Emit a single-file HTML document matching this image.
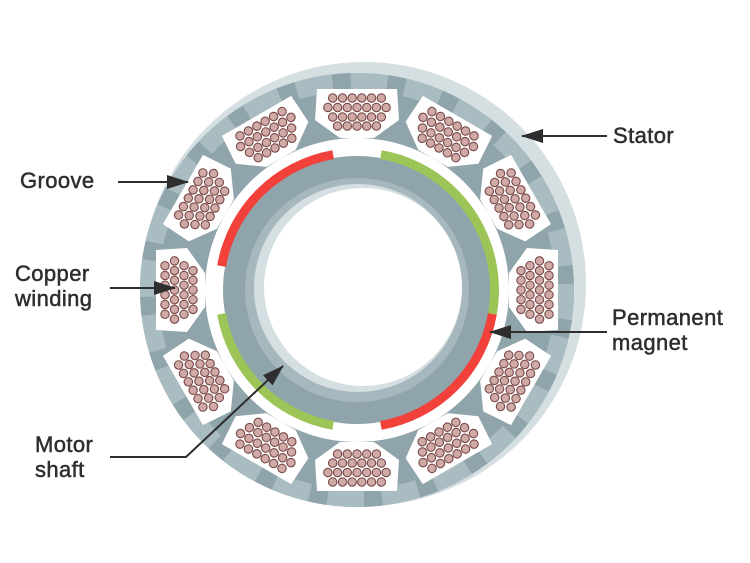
<!DOCTYPE html>
<html><head><meta charset="utf-8"><style>
html,body{margin:0;padding:0;background:#fff;width:750px;height:563px;overflow:hidden}
text{font-family:"Liberation Sans",sans-serif;font-size:22px;fill:#2e2e2e;stroke:#2e2e2e;stroke-width:0.5px;letter-spacing:0.4px}
</style></head><body>
<svg id="s" width="750" height="563" viewBox="0 0 750 563" xmlns="http://www.w3.org/2000/svg">
<defs>
<marker id="ah2" markerWidth="22" markerHeight="14" refX="21" refY="7" orient="auto" markerUnits="userSpaceOnUse"><path d="M0,0 L22,7 L0,14 Z" fill="#2e2e2e"/></marker>
</defs>
<circle cx="364" cy="284" r="222" fill="#d5dfe2"/>
<circle cx="357" cy="290" r="217" fill="#8fa5ab"/>
<circle cx="357" cy="290" r="208" fill="none" stroke="#a9bcc1" stroke-width="18"/>
<circle cx="357" cy="290" r="208" fill="none" stroke="#8fa5ab" stroke-width="18" stroke-dasharray="18 36.5" transform="rotate(8 357 290)"/>
<circle cx="357" cy="290" r="199" fill="#8fa5ab"/>
<circle cx="357" cy="290" r="152" fill="#fff"/>
<g id="slots"></g>
<circle cx="357" cy="290" r="134" fill="#8fa5ab"/>
<circle cx="357" cy="290" r="112" fill="#a6b8bd"/>
<circle cx="358" cy="288" r="104" fill="#d5dfe2"/>
<circle cx="363" cy="287" r="99" fill="#fff"/>
<g id="mag"></g>
<line x1="607" y1="136" x2="522" y2="136" stroke="#2e2e2e" stroke-width="2" marker-end="url(#ah2)"/>
<line x1="607" y1="332" x2="490" y2="332" stroke="#2e2e2e" stroke-width="2" marker-end="url(#ah2)"/>
<line x1="118" y1="182" x2="188" y2="182" stroke="#2e2e2e" stroke-width="2" marker-end="url(#ah2)"/>
<line x1="110" y1="288" x2="175" y2="288" stroke="#2e2e2e" stroke-width="2" marker-end="url(#ah2)"/>
<polyline points="110,457 186,457 283,366" fill="none" stroke="#2e2e2e" stroke-width="2" marker-end="url(#ah2)"/>
<text x="613" y="143">Stator</text>
<text x="612" y="325">Permanent</text>
<text x="612" y="350">magnet</text>
<text x="20" y="188">Groove</text>
<text x="15" y="281">Copper</text>
<text x="15" y="306">winding</text>
<text x="35" y="452">Motor</text>
<text x="35" y="477">shaft</text>
</svg>
<script>
var cx=357,cy=290;
var g=document.getElementById("slots"),h="";
var rows=[[-192,6],[-182.5,7],[-173,6],[-164,5]];
for(var k=0;k<12;k++){
 var a=k*30;
 h+='<g transform="translate('+cx+','+cy+') rotate('+a+')">';
 h+='<polygon points="-40,-201 40,-201 42,-170 17,-152 -17,-152 -42,-170" fill="#fff"/>';
 for(var i=0;i<rows.length;i++){var y=rows[i][0],n=rows[i][1];
  for(var j=0;j<n;j++){var x=(j-(n-1)/2)*9.7;
   h+='<circle cx="'+x.toFixed(1)+'" cy="'+y+'" r="4.2" fill="#cfaaa6" stroke="#7a4848" stroke-width="1.1"/>';}}
 h+='</g>';
}
g.innerHTML=h;
function arc(r1,r2,a1,a2,col){
 function p(r,a){var t=a*Math.PI/180;return (cx+r*Math.cos(t)).toFixed(1)+','+(cy-r*Math.sin(t)).toFixed(1);}
 return '<path d="M'+p(r2,a1)+' A'+r2+','+r2+' 0 0 0 '+p(r2,a2)+' L'+p(r1,a2)+' A'+r1+','+r1+' 0 0 1 '+p(r1,a1)+' Z" fill="'+col+'"/>';
}
var m="";
m+=arc(133,142,100,170,"#f2403a");
m+=arc(133,142,-10,80,"#9dc456");
m+=arc(133,142,-80,-10,"#f2403a");
m+=arc(133,142,190,260,"#9dc456");
document.getElementById("mag").innerHTML=m;
</script>
</body></html>
